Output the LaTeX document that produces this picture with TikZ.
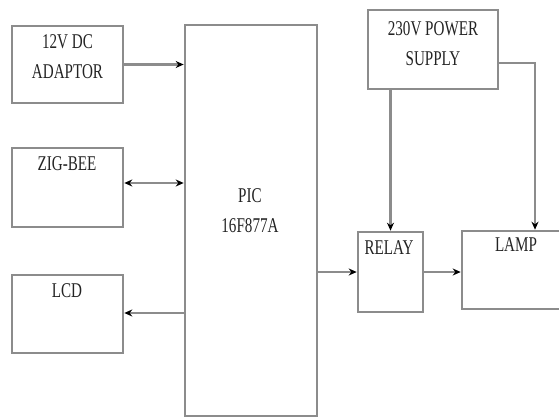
\documentclass[tikz,border=0pt]{standalone}
\usepackage{fontspec}
\setmainfont{Liberation Serif}
\usetikzlibrary{arrows.meta}
\definecolor{ln}{RGB}{140,140,140}
\definecolor{tx}{RGB}{35,35,35}
\newcommand\cnd[1]{\scalebox{0.72}[1]{#1}}
\begin{document}
\begin{tikzpicture}[x=1pt,y=-1pt,
 box/.style={draw=ln, line width=2.6pt, inner sep=0pt},
 txt/.style={text=tx, font=\fontsize{21}{30}\selectfont, align=center, inner sep=0pt},
 wire/.style={draw=ln, line width=2.6pt},
 tip/.style={-{Stealth[black,length=8pt,width=7pt]}},
 dtip/.style={{Stealth[black,length=8pt,width=7pt]}-{Stealth[black,length=8pt,width=7pt]}}]
\useasboundingbox (0,0) rectangle (559,417);
% boxes
\node[box, minimum width=111pt, minimum height=77pt] (adp) at (67.5,64.5) {};
\node[box, minimum width=111pt, minimum height=79pt] (zig) at (67.5,187.5) {};
\node[box, minimum width=111pt, minimum height=78pt] (lcd) at (67.5,314) {};
\node[box, minimum width=132pt, minimum height=391pt] (pic) at (251,220.5) {};
\node[box, minimum width=130pt, minimum height=79pt] (pw) at (433,49.5) {};
\node[box, minimum width=65pt, minimum height=80pt] (rel) at (390.5,272) {};
\node[box, minimum width=108pt, minimum height=78pt] (lamp) at (516,270) {};
% texts
\node[txt] (tadp) at (67.5,57) {\cnd{12V DC}\\\cnd{ADAPTOR}};
\node[txt] (tzig) at (67,164) {\cnd{ZIG-BEE}};
\node[txt] (tlcd) at (67,291) {\cnd{LCD}};
\node[txt] (tpic) at (250,211) {\cnd{PIC}\\\cnd{16F877A}};
\node[txt] (tpw) at (433,44) {\cnd{230V POWER}\\\cnd{SUPPLY}};
\node[txt] (trel) at (389,248) {\cnd{RELAY}};
\node[txt] (tlamp) at (516,245) {\cnd{LAMP}};
% connectors
\coordinate (zigp) at ([yshift=4.5pt]zig.east);
\coordinate (lcdp) at ([yshift=1pt]lcd.east);
\coordinate (pwp) at ([yshift=-13.5pt]pw.east);
\draw[wire,tip] (adp.east) -- (pic.west |- adp.east);
\draw[wire,dtip] (zigp) -- (pic.west |- zigp);
\draw[wire,tip] (pic.west |- lcdp) -- (lcdp);
\draw[wire,tip] (pic.east |- rel.west) -- (rel.west);
\draw[wire,tip] (rel.east) -- (lamp.west |- rel.east);
\draw[wire,tip] (rel.north |- pw.south) -- (rel.north);
\draw[wire,tip] (pwp) -| ([xshift=19pt]lamp.north);
\end{tikzpicture}
\end{document}
